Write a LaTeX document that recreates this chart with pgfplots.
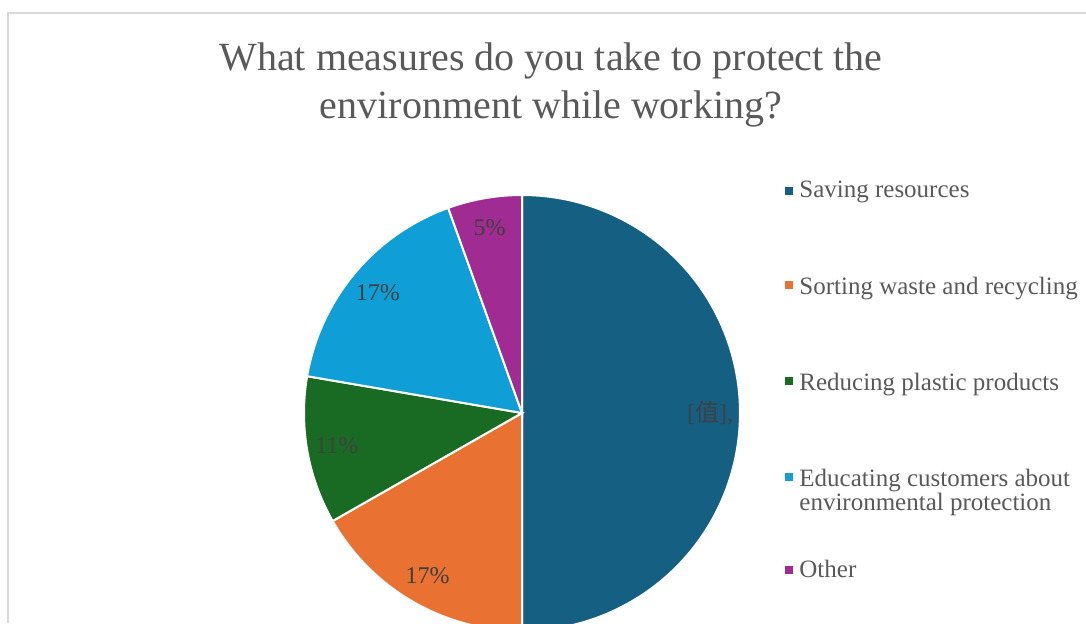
\documentclass[border=0pt]{standalone}
\usepackage{pgfplots}
\usepackage{pgfplotstable}
\pgfplotsset{compat=1.18}
\usepackage{fontspec}
\setmainfont{Liberation Serif}
\newfontfamily\cjk{Noto Sans CJK SC}
\definecolor{cA}{HTML}{156082}
\definecolor{cB}{HTML}{E97132}
\definecolor{cC}{HTML}{196B24}
\definecolor{cD}{HTML}{0F9ED5}
\definecolor{cE}{HTML}{A02B93}
\definecolor{titlegray}{HTML}{595959}
\definecolor{labelgray}{HTML}{404040}
\definecolor{framegray}{HTML}{D9D9D9}

\pgfplotstableread{
cat value
Saving 50.0
Sorting 16.75
Reducing 10.95
Educating 16.8
Other 5.5
}\piedata

\pgfplotstablegetelem{0}{value}\of\piedata \let\vA\pgfplotsretval
\pgfplotstablegetelem{1}{value}\of\piedata \let\vB\pgfplotsretval
\pgfplotstablegetelem{2}{value}\of\piedata \let\vC\pgfplotsretval
\pgfplotstablegetelem{3}{value}\of\piedata \let\vD\pgfplotsretval
\pgfplotstablegetelem{4}{value}\of\piedata \let\vE\pgfplotsretval

\pgfmathsetmacro\aA{90}
\pgfmathsetmacro\aB{\aA-3.6*\vA}
\pgfmathsetmacro\aC{\aB-3.6*\vB}
\pgfmathsetmacro\aD{\aC-3.6*\vC}
\pgfmathsetmacro\aE{\aD-3.6*\vD}
\pgfmathsetmacro\aF{\aE-3.6*\vE}
% pie centre and radius (in px units of the axis)
\def\cx{522}\def\cy{210}\def\rr{218}\def\lr{188}
\pgfmathsetmacro\xA{\cx+\lr*cos((\aA+\aB)/2)}\pgfmathsetmacro\yA{\cy+\lr*sin((\aA+\aB)/2)}
\pgfmathsetmacro\xB{\cx+\lr*cos((\aB+\aC)/2)}\pgfmathsetmacro\yB{\cy+\lr*sin((\aB+\aC)/2)}
\pgfmathsetmacro\xC{\cx+\lr*cos((\aC+\aD)/2)}\pgfmathsetmacro\yC{\cy+\lr*sin((\aC+\aD)/2)}
\pgfmathsetmacro\xD{\cx+\lr*cos((\aD+\aE)/2)}\pgfmathsetmacro\yD{\cy+\lr*sin((\aD+\aE)/2)}
\pgfmathsetmacro\xE{\cx+\lr*cos((\aE+\aF)/2)}\pgfmathsetmacro\yE{\cy+\lr*sin((\aE+\aF)/2)}
\newcommand\tallstrut{\rule{0pt}{11.05pt}}

\begin{document}
\begin{tikzpicture}
\useasboundingbox (0,0) rectangle (543pt,311.5pt);
\begin{axis}[
  scale only axis, width=543pt, height=311.5pt,
  xmin=0, xmax=1086, ymin=0, ymax=623,
  hide axis,
  legend image code/.code={\fill[#1, draw=none] (0pt,-2pt) rectangle (4pt,2pt);},
  legend cell align=left,
  legend style={draw=none, fill=none, at={(axis cs:779,446)}, anchor=north west,
    font=\fontsize{12.5}{12}\selectfont, text=titlegray, row sep=35.5pt,
    nodes={inner xsep=3pt, inner ysep=0pt}},
]
\draw[framegray, line width=1pt] (axis cs:8,0) -- (axis cs:8,610) -- (axis cs:1090,610);

\addplot[fill=cA, draw=white, line width=1pt, domain=\aB:\aA, samples=120, variable=\t]
  ({\cx+\rr*cos(\t)},{\cy+\rr*sin(\t)}) -- (axis cs:\cx,\cy) -- cycle;
\addlegendentry{Saving resources}
\addplot[fill=cB, draw=white, line width=1pt, domain=\aC:\aB, samples=60, variable=\t]
  ({\cx+\rr*cos(\t)},{\cy+\rr*sin(\t)}) -- (axis cs:\cx,\cy) -- cycle;
\addlegendentry{\tallstrut Sorting waste and recycling}
\addplot[fill=cC, draw=white, line width=1pt, domain=\aD:\aC, samples=50, variable=\t]
  ({\cx+\rr*cos(\t)},{\cy+\rr*sin(\t)}) -- (axis cs:\cx,\cy) -- cycle;
\addlegendentry{\tallstrut Reducing plastic products}
\addplot[fill=cD, draw=white, line width=1pt, domain=\aE:\aD, samples=60, variable=\t]
  ({\cx+\rr*cos(\t)},{\cy+\rr*sin(\t)}) -- (axis cs:\cx,\cy) -- cycle;
\addlegendentry{\raisebox{0pt}[\height][\dimexpr\depth-9.5pt\relax]{\begin{tabular}[t]{@{}l@{}}\tallstrut Educating customers about\\environmental protection\end{tabular}}}
\addplot[fill=cE, draw=white, line width=1pt, domain=\aF:\aE, samples=30, variable=\t]
  ({\cx+\rr*cos(\t)},{\cy+\rr*sin(\t)}) -- (axis cs:\cx,\cy) -- cycle;
\addlegendentry{Other}

\begin{scope}[every node/.style={font=\fontsize{12}{14}\selectfont, text=labelgray}]
\node at (axis cs:\xA,\yA) {[{\cjk 值}],};
\node at (axis cs:\xB,\yB) {17\%};
\node at (axis cs:\xC,\yC) {11\%};
\node at (axis cs:\xD,\yD) {17\%};
\node at (axis cs:\xE,\yE) {5\%};
\end{scope}

\node[align=center, font=\fontsize{20}{24}\selectfont, text=titlegray]
  at (axis cs:551,538) {What measures do you take to protect the\\environment while working?};
\end{axis}
\end{tikzpicture}
\end{document}
